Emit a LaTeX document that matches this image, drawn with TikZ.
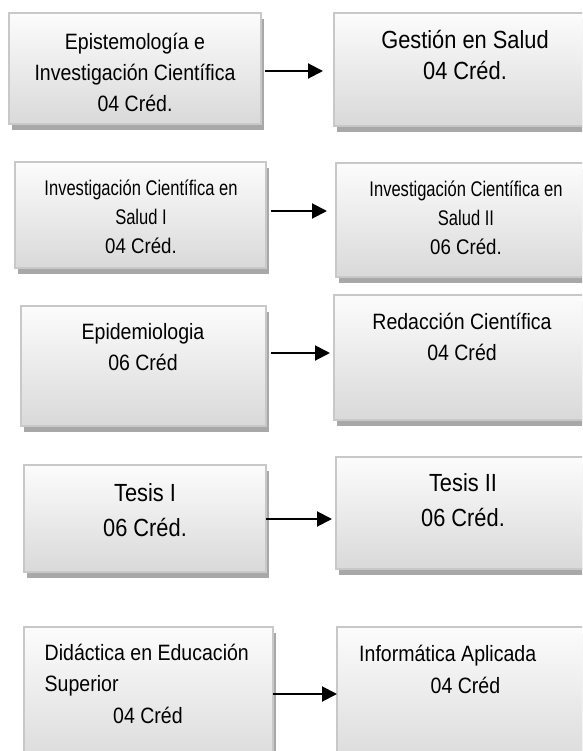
\documentclass[tikz,border=0pt]{standalone}
\definecolor{BoxBorder}{RGB}{200,200,200}
\definecolor{BoxTop}{RGB}{252,252,252}
\definecolor{BoxBottom}{RGB}{217,217,217}
\definecolor{BoxShadow}{RGB}{168,168,168}
\usepackage{fontspec}
\setmainfont[FakeStretch=0.88]{Liberation Sans}
\newfontfamily\narrowfont[FakeStretch=0.78]{Liberation Sans}
\usepackage{tikz}
\usetikzlibrary{positioning, arrows.meta, shadows}
\tikzstyle{course} = [draw=BoxBorder, line width=1.2pt, top color=BoxTop, bottom color=BoxBottom, drop shadow={shadow xshift=3pt, shadow yshift=-6pt, fill=BoxShadow, opacity=1}, inner sep=0pt, outer sep=0pt]
\tikzstyle{coursetext} = [align=center, inner sep=0pt, font=\fontsize{22.2}{31}\selectfont]
\tikzstyle{arrow} = [line width=2pt, black, -{Triangle[length=15pt,width=15pt]}]

\begin{document}
\begin{tikzpicture}[x=1pt, y=-1pt]
  \useasboundingbox (0,0) rectangle (582,751);
  \clip (0,0) rectangle (582,751);

  % Row 1
  \node[course, minimum width=252pt, minimum height=111pt] (epistemologia) at (135,68.5) {};
  \node[coursetext] (epistemologiatext) at (135,72) {Epistemología e\\ Investigación Científica\\ 04 Créd.};
  \node[course, minimum width=262pt, minimum height=113pt] (gestion) at (465,69.5) {};
  \node[coursetext, font=\fontsize{24.8}{31}\selectfont] (gestiontext) at (465,54.5) {Gestión en Salud\\ 04 Créd.};

  % Row 2
  \node[course, minimum width=251pt, minimum height=106pt] (saludi) at (140.5,215) {};
  \node[coursetext, font=\fontsize{21.2}{29}\selectfont] (saluditext) at (141,217)
    {\narrowfont Investigación Científica en\\ \narrowfont Salud I\\ 04 Créd.};
  \node[course, minimum width=260pt, minimum height=114pt] (saludii) at (466,220) {};
  \node[coursetext, font=\fontsize{21.2}{29}\selectfont] (saludiitext) at (466,218)
    {\narrowfont Investigación Científica en\\ \narrowfont Salud II\\ 06 Créd.};

  % Row 3
  \node[course, minimum width=245pt, minimum height=120pt] (epidemiologia) at (143.5,366) {};
  \node[coursetext] (epidemiologiatext) at (143,347.5) {Epidemiologia\\ 06 Créd};
  \node[course, minimum width=262pt, minimum height=125pt] (redaccion) at (465,357.5) {};
  \node[coursetext] (redacciontext) at (462,337) {Redacción Científica\\ 04 Créd};

  % Row 4
  \node[course, minimum width=242pt, minimum height=107pt] (tesisi) at (145,518.5) {};
  \node[coursetext, font=\fontsize{24.8}{35}\selectfont] (tesisitext) at (145,510) {Tesis I\\ 06 Créd.};
  \node[course, minimum width=260pt, minimum height=112pt] (tesisii) at (466,513) {};
  \node[coursetext, font=\fontsize{24.8}{35}\selectfont] (tesisiitext) at (463,500.5) {Tesis II\\ 06 Créd.};

  % Row 5
  \node[course, minimum width=249pt, minimum height=143pt] (didactica) at (148.5,698.5) {};
  \node[coursetext, align=left, anchor=west, font=\fontsize{22.2}{31.5}\selectfont] (didacticatext) at (44.5,683.5)
    {Didáctica en Educación\\ Superior\\ \hspace*{68.5pt}04 Créd};
  \node[course, minimum width=259pt, minimum height=143pt] (informatica) at (466.5,698.5) {};
  \node[coursetext, align=left, anchor=west, font=\fontsize{22.2}{32}\selectfont] (informaticatext) at (359,669)
    {Informática Aplicada\\ \hspace*{71.5pt}04 Créd};

  % Arrows
  \draw[arrow, shorten <=4pt, shorten >=11pt] ([yshift=-2.5pt]epistemologia.east) -- ([yshift=-1.5pt]gestion.west);
  \draw[arrow, shorten <=5pt, shorten >=9pt] ([yshift=4pt]saludi.east) -- ([yshift=9pt]saludii.west);
  \draw[arrow, shorten <=5pt, shorten >=4pt] ([yshift=13pt]epidemiologia.east) -- ([yshift=4.5pt]redaccion.west);
  \draw[arrow, shorten >=4pt] ([yshift=-0.5pt]tesisi.east) -- ([yshift=-6pt]tesisii.west);
  \draw[arrow] ([yshift=4.5pt]didactica.east) -- ([yshift=4.5pt]informatica.west);
\end{tikzpicture}
\end{document}
